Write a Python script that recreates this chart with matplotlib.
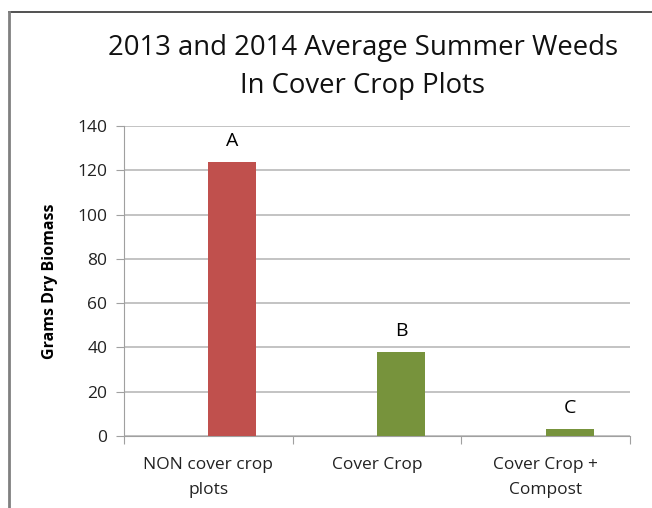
import matplotlib
matplotlib.use("Agg")
import matplotlib.pyplot as plt
import numpy as np
from matplotlib.lines import Line2D

categories = ["NON cover crop\nplots", "Cover Crop", "Cover Crop +\nCompost"]
values = [123.8, 37.8, 3.2]
letters = ["A", "B", "C"]
colors = ["#C0504D", "#77933C", "#77933C"]
yticks = [0, 20, 40, 60, 80, 100, 120, 140]

FONT = "Open Sans"
plt.rcParams["font.family"] = [FONT, "DejaVu Sans"]

fig = plt.figure(figsize=(6.52, 5.08), dpi=100)
W, H = 652, 508
ax = fig.add_axes([124 / W, 1 - 436 / H, (630 - 124) / W, (436 - 126) / H])

x = np.arange(len(categories))
bw = 0.285
ax.bar(x, values, width=bw, align="edge", color=colors, zorder=3)
for xi, v, t in zip(x, values, letters):
    ax.text(xi + bw / 2, v + 5.5, t, ha="center", va="bottom", fontsize=14, color="#000000")

ax.set_xlim(-0.5, 2.5)
ax.set_ylim(0, 140)
ax.set_yticks(yticks)
ax.set_yticklabels([str(t) for t in yticks], fontsize=12.5, color="#222222")
ax.yaxis.grid(True, color="#b3b3b3", linewidth=1.1, zorder=0)
ax.set_axisbelow(True)

ax.set_xticks([-0.5, 0.5, 1.5, 2.5])
ax.set_xticklabels([])
ax.set_xticks(x, minor=True)
ax.set_xticklabels(categories, minor=True, fontsize=12.5, color="#222222", linespacing=1.75)
ax.tick_params(axis="x", which="minor", length=0, pad=15)
ax.tick_params(axis="x", which="major", length=6, color="#a0a0a0", direction="out")
ax.tick_params(axis="y", length=6, color="#a0a0a0", direction="out", pad=6)

for s in ["top", "right"]:
    ax.spines[s].set_visible(False)
ax.spines["left"].set_color("#a0a0a0")
ax.spines["bottom"].set_color("#a0a0a0")

ax.set_ylabel("Grams Dry Biomass", fontsize=11.5, fontweight="bold", labelpad=14)

fig.text(363 / W, 1 - 67 / H, "2013 and 2014 Average Summer Weeds\nIn Cover Crop Plots",
         ha="center", va="center", fontsize=19.8, linespacing=1.5, color="#111111")

# outer frame lines (top and left)
fig.add_artist(Line2D([9 / W, 1], [1 - 12 / H, 1 - 12 / H], transform=fig.transFigure,
                      color="#333333", linewidth=1.2))
fig.add_artist(Line2D([9 / W, 9 / W], [0, 1 - 12 / H], transform=fig.transFigure,
                      color="#808080", linewidth=2))

fig.savefig("out.png", dpi=100)
